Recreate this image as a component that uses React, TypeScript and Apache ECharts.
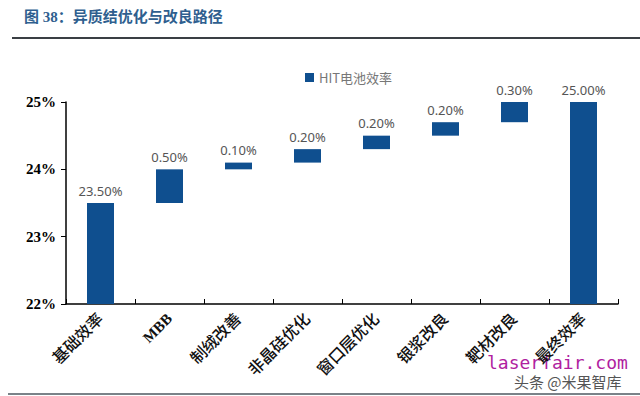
import React, { useEffect, useRef } from "react";
import * as echarts from "echarts";

const categories = ["基础效率", "MBB", "制绒改善", "非晶硅优化", "窗口层优化", "银浆改良", "靶材改良", "最终效率"];
const baseValues = [0, 23.5, 24.0, 24.1, 24.3, 24.5, 24.7, 0];
const stepValues = [23.5, 0.5, 0.1, 0.2, 0.2, 0.2, 0.3, 25.0];
const yTicks = [22, 23, 24, 25];

export default function App() {
  const ref = useRef<HTMLDivElement>(null);
  useEffect(() => {
    const chart = echarts.init(ref.current!, null, { renderer: "svg" });
    chart.setOption({
      animation: false,
      backgroundColor: "#ffffff",
      grid: { left: 66, right: 22, top: 102, bottom: 92 },
      legend: {
        data: ["HIT电池效率"],
        left: 300,
        top: 66,
        itemWidth: 9,
        itemHeight: 9,
        itemGap: 4,
        icon: "rect",
        textStyle: { color: "#777", fontSize: 13, fontFamily: "Noto Sans CJK SC" },
      },
      xAxis: {
        type: "category",
        data: categories,
        axisLine: { lineStyle: { color: "#000", width: 1.5 } },
        axisTick: { show: true, inside: true, length: 5, lineStyle: { color: "#000" } },
        axisLabel: {
          rotate: 45,
          margin: 12,
          color: "#111",
          fontSize: 16,
          fontWeight: 500,
          fontFamily: "Liberation Serif, Noto Sans CJK SC",
          formatter: (v: string) => (v === "MBB" ? "{b|" + v + "}" : v),
          rich: {
            b: { fontSize: 15, fontWeight: "bold", fontFamily: "Liberation Serif", color: "#111" },
          },
        },
      },
      yAxis: {
        type: "value",
        min: yTicks[0],
        max: yTicks[yTicks.length - 1],
        interval: 1,
        splitLine: { show: false },
        axisLine: { show: true, lineStyle: { color: "#000", width: 1.5 } },
        axisTick: { show: true, length: 5, lineStyle: { color: "#000" } },
        axisLabel: {
          formatter: "{value}%",
          color: "#000",
          fontSize: 15,
          fontWeight: "bold",
          fontFamily: "Liberation Serif",
          margin: 10,
        },
      },
      series: [
        {
          name: "base",
          type: "bar",
          stack: "w",
          data: baseValues,
          itemStyle: { color: "transparent" },
          barWidth: 27,
          silent: true,
        },
        {
          name: "HIT电池效率",
          type: "bar",
          stack: "w",
          data: stepValues,
          barWidth: 27,
          itemStyle: { color: "#0f4f8f" },
          label: {
            show: true,
            position: "top",
            distance: 6,
            color: "#555",
            fontSize: 13,
            fontFamily: "Noto Sans, DejaVu Sans",
            formatter: (p: any) => Number(p.value).toFixed(2) + "%",
          },
        },
      ],
      graphic: [
        {
          type: "text",
          left: 24,
          top: 9,
          style: {
            text: "图 38：异质结优化与改良路径",
            fill: "#2f5f8f",
            fontSize: 15,
            fontWeight: "bold",
            fontFamily: "Liberation Serif, Noto Sans CJK SC",
          },
        },
        {
          type: "line",
          shape: { x1: 12, y1: 38, x2: 640, y2: 38 },
          style: { stroke: "#3a3f44", lineWidth: 2 },
        },
        {
          type: "line",
          shape: { x1: 8, y1: 394, x2: 640, y2: 394 },
          style: { stroke: "#7a8288", lineWidth: 2 },
        },
        {
          type: "text",
          left: 487,
          top: 353,
          style: {
            text: "laserfair.com",
            fill: "#b01ea0",
            fontSize: 18,
            fontFamily: "DejaVu Sans Mono",
          },
        },
        {
          type: "text",
          left: 514,
          top: 374,
          style: {
            text: "头条 @米果智库",
            fill: "#555",
            fontSize: 15,
            fontFamily: "Noto Sans CJK SC",
          },
        },
      ],
    });
    return () => chart.dispose();
  }, []);
  return <div ref={ref} style={{ width: 640, height: 396, position: "absolute", left: 0, top: 0 }} />;
}
